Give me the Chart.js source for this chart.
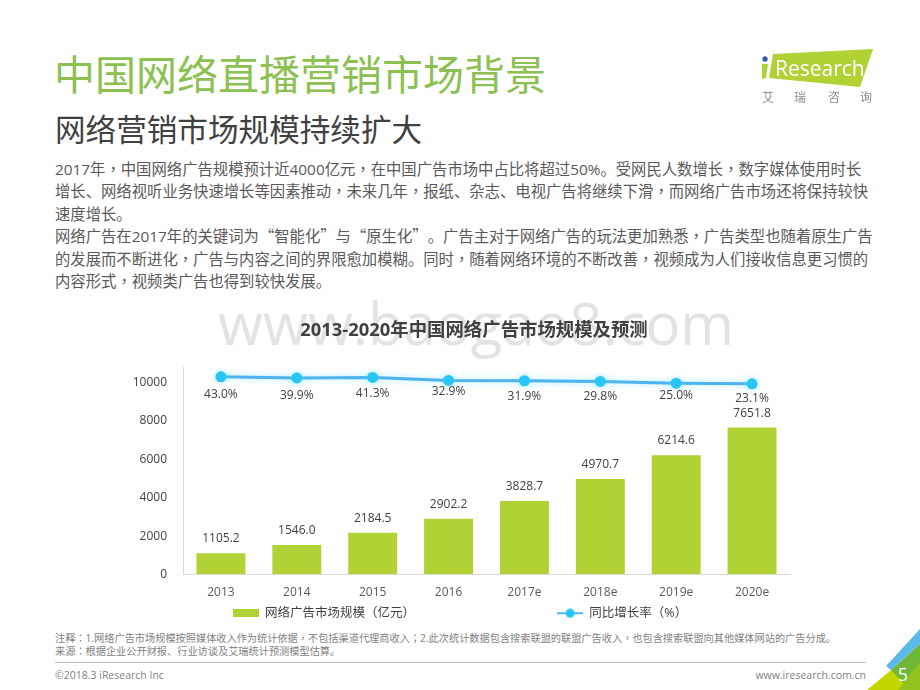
<!DOCTYPE html>
<html><head><meta charset="utf-8">
<script src="https://cdn.jsdelivr.net/npm/chart.js@4/dist/chart.umd.min.js"></script>
<style>
html,body{margin:0;padding:0;background:#fff;width:920px;height:690px;overflow:hidden}
body{font-family:"Open Sans","Noto Sans CJK SC",sans-serif;position:relative;color:#404040;text-spacing-trim:space-all}
.t{position:absolute;white-space:nowrap}
.q{font-family:"Noto Sans CJK SC";line-height:0}
.c{font-family:"Noto Sans CJK TC";display:inline-block;width:1em;text-align:center;line-height:0}
#wrap{position:absolute;left:0;top:318px;width:920px;height:307px}
</style></head><body>
<div class="t" style="left:218px;top:283px;font-size:58px;color:#e3e3e3;font-family:'Open Sans'">www.baogao8.com</div>
<div class="t" style="left:54px;top:44px;font-size:41px;line-height:60px;color:#8cc050">中国网络直播营销市场背景</div>
<div class="t" style="left:55px;top:106px;font-size:30.6px;line-height:46px;color:#404040">网络营销市场规模持续扩大</div>
<div class="t" id="body" style="left:55px;top:158px;font-size:15.35px;line-height:22.4px;color:#595959">
2017年，中国网络广告规模预计近4000亿元，在中国广告市场中占比将超过50%。受网民人数增长，数字媒体使用时长<br>
增长、网络视听业务快速增长等因素推动，未来几年，报纸、杂志、电视广告将继续下滑，而网络广告市场还将保持较快<br>
速度增长。<br>
网络广告在2017年的关键词为<span class="q">“</span>智能化<span class="q">”</span>与<span class="q">“</span>原生化<span class="q">”</span>。广告主对于网络广告的玩法更加熟悉，广告类型也随着原生广告<br>
的发展而不断进化，广告与内容之间的界限愈加模糊。同时，随着网络环境的不断改善，视频成为人们接收信息更习惯的<br>
内容形式，视频类广告也得到较快发展。</div>
<div id="wrap"><canvas id="c" width="920" height="307"></canvas></div>
<div class="t" id="note" style="left:55px;top:632px;font-size:10.2px;line-height:13px;color:#7f7f7f">注释：1.网络广告市场规模按照媒体收入作为统计依据，不包括渠道代理商收入；2.此次统计数据包含搜索联盟的联盟广告收入，也包含搜索联盟向其他媒体网站的广告分成。<br>来源：根据企业公开财报、行业访谈及艾瑞统计预测模型估算。</div>
<div style="position:absolute;left:55px;top:662px;width:811px;height:1px;background:#bfbfbf"></div>
<div class="t" style="left:55px;top:668px;font-size:10.5px;line-height:15px;color:#7f7f7f">©2018.3 iResearch Inc</div>
<div class="t" style="right:54px;top:668px;font-size:10.5px;line-height:15px;color:#7f7f7f">www.iresearch.com.cn</div>
<svg style="position:absolute;left:0;top:0" width="920" height="690">
<polygon points="920,629 886,666 891,670 920,644" fill="#5bb9ea"/>
<polygon points="891,670 920,644 920,690 905,690" fill="#6fb738"/>
<polygon points="867,690 891,670 910,690" fill="#c5d500"/>
<polygon points="898,690 920,662 920,690" fill="#93c31f"/>
<polygon points="773,54 873,49 860,87 769,78" fill="#b0d235"/>
<circle cx="765" cy="59" r="2.7" fill="#3f5aa9"/>
<polygon points="762,64 768,64 766,78 762,79" fill="#b0d235"/>
<text x="775" y="76" font-family="Open Sans" font-size="21" fill="#fff">Research</text>
<g font-family="Noto Sans CJK SC" font-size="12" fill="#8c8c8c"><text x="762" y="102">艾</text><text x="794" y="102">瑞</text><text x="828" y="102">咨</text><text x="860" y="102">询</text></g>
<text x="903" y="681" text-anchor="middle" font-family="Open Sans" font-size="18" fill="#fff">5</text>
</svg>
<script>
const chartTitle = '2013-2020年中国网络广告市场规模及预测';
const categories = ['2013','2014','2015','2016','2017e','2018e','2019e','2020e'];
const adMarket = [1105.2,1546.0,2184.5,2902.2,3828.7,4970.7,6214.6,7651.8];
const growthRate = [43.0,39.9,41.3,32.9,31.9,29.8,25.0,23.1];
const yTicks = [0,2000,4000,6000,8000,10000];
const barName = '网络广告市场规模（亿元）';
const lineName = '同比增长率（%）';

const font = '"Open Sans","Noto Sans CJK SC",sans-serif';
const cjkFix = s=>s.replace(/[，；：]/g,m=>'<span class="c">'+m+'</span>');
['body','note'].forEach(id=>{const e=document.getElementById(id);e.innerHTML=cjkFix(e.innerHTML);});
function swatch(w,h,draw){const s=document.createElement('canvas');s.width=w;s.height=h;draw(s.getContext('2d'));return s;}
const barSwatch = swatch(26,8,x=>{x.fillStyle='#b0d235';x.fillRect(0,0,26,8);});
const lineSwatch = swatch(26,10,x=>{x.fillStyle='#4db8f0';x.fillRect(0,4,26,2);x.fillStyle='#29c5f6';x.beginPath();x.arc(13,5,4.5,0,7);x.fill();});

const valueLabels = {
  id:'valueLabels',
  afterDatasetsDraw(chart){
    const ctx=chart.ctx;ctx.save();ctx.font='12px '+font;ctx.fillStyle='#404040';ctx.textAlign='center';ctx.textBaseline='alphabetic';
    chart.getDatasetMeta(1).data.forEach((b,i)=>ctx.fillText(adMarket[i].toFixed(1),b.x,b.y-11));
    const drops=[21,21,20,15,19,19,16,18];
    chart.getDatasetMeta(0).data.forEach((p,i)=>ctx.fillText(growthRate[i].toFixed(1)+'%',p.x,p.y+drops[i]));
    ctx.restore();
  }
};
const lineGlow = {
  id:'lineGlow',
  beforeDatasetDraw(chart,args){ if(args.index===0){chart.ctx.save();chart.ctx.shadowColor='rgba(90,220,255,.55)';chart.ctx.shadowBlur=6;} },
  afterDatasetDraw(chart,args){ if(args.index===0){chart.ctx.restore();} }
};
const LEGEND_GAP = 142;
const layoutTweaks = {
  id:'layoutTweaks',
  afterLayout(chart){
    if(chart.titleBlock) chart.titleBlock.left += 28;
    if(chart.legend) chart.legend.top -= LEGEND_GAP + 4;
  }
};

new Chart(document.getElementById('c'),{
  data:{labels:categories,datasets:[
    {type:'line',label:lineName,data:growthRate,yAxisID:'y2',order:1,borderColor:'#4db2ee',backgroundColor:'#29c5f6',borderWidth:3,pointRadius:5.5,pointBackgroundColor:'#29c5f6',pointBorderWidth:0,tension:0},
    {type:'bar',label:barName,data:adMarket,yAxisID:'y',order:2,backgroundColor:'#b0d235',barPercentage:0.645,categoryPercentage:1}
  ]},
  options:{
    responsive:false,animation:false,devicePixelRatio:1,
    layout:{padding:0},
    plugins:{
      tooltip:{enabled:false},
      title:{display:true,text:chartTitle,color:'#404040',font:{family:font,size:18.4,weight:'bold'},padding:{top:2,bottom:25}},
      legend:{position:'bottom',maxHeight:14,labels:{
        usePointStyle:true,pointStyleWidth:26,color:'#404040',font:{family:font,size:12.5},padding:LEGEND_GAP,boxHeight:12,
        generateLabels(){return [
          {text:barName,pointStyle:barSwatch,fillStyle:'#b0d235',strokeStyle:'#b0d235',lineWidth:0,fontColor:'#404040',datasetIndex:1},
          {text:lineName,pointStyle:lineSwatch,fillStyle:'#29c5f6',strokeStyle:'#29c5f6',lineWidth:0,fontColor:'#404040',datasetIndex:0}
        ];}
      }}
    },
    scales:{
      x:{grid:{display:true,drawOnChartArea:false,drawTicks:false},border:{color:'#d9d9d9',width:1},
         ticks:{color:'#595959',font:{family:font,size:12},padding:11,maxRotation:0,autoSkip:false}},
      y:{min:0,max:10800,position:'left',
         afterFit(s){s.width=183;},
         afterBuildTicks(s){s.ticks=yTicks.map(v=>({value:v}));},
         grid:{display:true,drawOnChartArea:false,drawTicks:false},border:{color:'#d9d9d9',width:1},
         ticks:{color:'#404040',font:{family:font,size:12},padding:16,autoSkip:false,callback:v=>String(v)}},
      y2:{min:-523,max:71,position:'right',afterFit(s){s.width=130;},
         grid:{display:false,drawTicks:false},border:{display:false},ticks:{display:false}}
    }
  },
  plugins:[valueLabels,lineGlow,layoutTweaks]
});
</script>
</body></html>
